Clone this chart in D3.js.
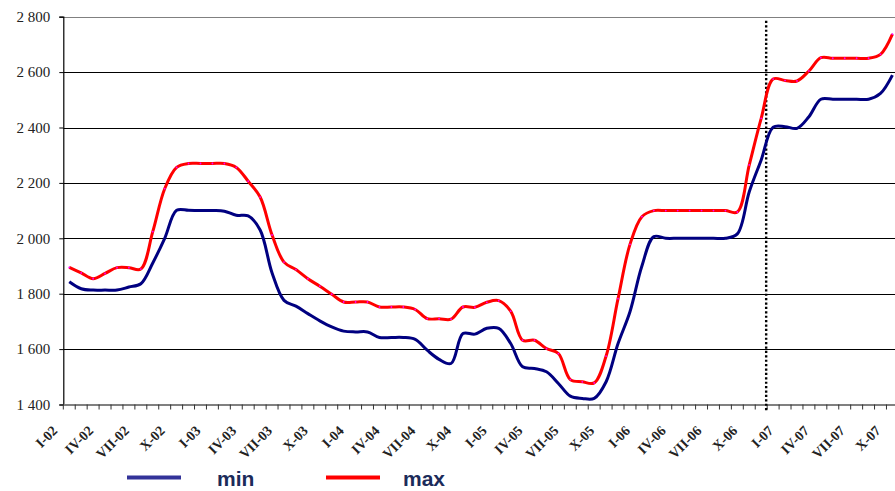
<!DOCTYPE html>
<html>
<head>
<meta charset="utf-8">
<script src="https://cdn.jsdelivr.net/npm/d3@7"></script>
<style>
  html, body { margin: 0; padding: 0; background: #fff; }
  svg { display: block; }
</style>
</head>
<body>
<svg id="chart" width="895" height="491"></svg>
<script>
// ---- data ----
const romanMonths = ["I","II","III","IV","V","VI","VII","VIII","IX","X","XI","XII"];
const years = ["02","03","04","05","06","07"];
const categories = years.flatMap(y => romanMonths.map(m => m + "-" + y)).slice(0, 70);

const minValues = [
  1843,1818,1813,1813,1813,1824,1836,1911,2000,2101,2101,2100,
  2100,2098,2083,2081,2030,1875,1776,1755,1728,1702,1680,1665,
  1662,1662,1642,1642,1642,1635,1596,1563,1548,1656,1654,1675,
  1675,1620,1536,1530,1518,1476,1430,1422,1422,1482,1620,1735,
  1900,2006,2000,2000,2000,2000,2000,2000,2016,2168,2283,2401,
  2403,2397,2439,2502,2502,2502,2502,2502,2523,2589
];
const maxValues = [
  1895,1875,1854,1873,1894,1894,1889,2024,2179,2256,2270,2270,
  2270,2270,2256,2206,2149,2012,1914,1887,1854,1827,1798,1770,
  1770,1770,1752,1752,1752,1743,1710,1710,1708,1752,1751,1769,
  1775,1737,1632,1632,1602,1584,1490,1482,1478,1575,1782,1978,
  2078,2100,2100,2100,2100,2100,2100,2100,2095,2265,2433,2575,
  2570,2568,2604,2652,2650,2650,2650,2650,2664,2737
];
const yTicks = [1400,1600,1800,2000,2200,2400,2600,2800];
const labelMonths = ["I","IV","VII","X"];
const markerCategory = "XII-06";
const seriesNames = ["min","max"];

(function () {
  const svg = d3.select("#chart");
  const plotLeft = 63.3, plotTop = 16.7, plotBottom = 404.5;
  const step = 11.93;
  const x = d3.scaleBand().domain(categories).range([plotLeft, plotLeft + step * categories.length]).padding(0);
  const y = d3.scaleLinear().domain([1400, 2800]).range([plotBottom, plotTop]);
  const cx = c => x(c) + x.bandwidth() / 2;

  // gridlines
  svg.append("g").selectAll("line").data(yTicks.filter(v => v > 1400)).join("line")
    .attr("x1", plotLeft).attr("x2", 895)
    .attr("y1", d => Math.round(y(d)) + 0.5).attr("y2", d => Math.round(y(d)) + 0.5)
    .attr("stroke", d => d === 2800 ? "#808080" : "#000").attr("stroke-width", 1);

  // y axis
  const yAxis = d3.axisLeft(y).tickValues(yTicks).tickSize(4)
    .tickFormat(d => d3.format(",")(d).replace(",", " "));
  const gy = svg.append("g").attr("transform", `translate(${plotLeft},0)`).call(yAxis);
  gy.select(".domain").attr("stroke", "#000").attr("stroke-width", 1.2);
  gy.selectAll(".tick line").attr("stroke", "#000");
  gy.selectAll(".tick text")
    .attr("font-family", "'Liberation Serif', 'Times New Roman', serif")
    .attr("font-size", 15).attr("fill", "#222").attr("x", -13);

  // x axis
  const xAxis = d3.axisBottom(x).tickSize(0).tickFormat("");
  const gx = svg.append("g").attr("transform", `translate(0,${plotBottom})`).call(xAxis);
  gx.select(".domain").attr("stroke", "#808080").attr("stroke-width", 2);
  gx.selectAll(".tick").remove();
  gx.selectAll("line.mt").data(categories.concat(["__end"])).join("line").attr("class", "mt")
    .attr("x1", (d, i) => x.range()[0] + i * x.bandwidth())
    .attr("x2", (d, i) => x.range()[0] + i * x.bandwidth())
    .attr("y1", 0).attr("y2", 5).attr("stroke", "#333").attr("stroke-width", 1);
  gx.selectAll("text.lbl").data(categories.filter(c => labelMonths.includes(c.split("-")[0]))).join("text")
    .attr("class", "lbl")
    .attr("transform", d => `translate(${x(d) - 5},${27}) rotate(-45)`)
    .attr("text-anchor", "end")
    .attr("font-family", "'Liberation Serif', 'Times New Roman', serif")
    .attr("font-size", 14).attr("font-weight", "bold").attr("fill", "#222")
    .text(d => d);

  // dotted marker line
  svg.append("line")
    .attr("x1", x(markerCategory) - 1).attr("x2", x(markerCategory) - 1)
    .attr("y1", y(2785)).attr("y2", plotBottom + 8)
    .attr("stroke", "#000").attr("stroke-width", 2.4)
    .attr("stroke-dasharray", "2.2,2.2");

  // lines
  const line = vals => d3.line().curve(d3.curveCatmullRom.alpha(0.5))
    .x((d, i) => cx(categories[i])).y(d => y(d))(vals);
  svg.append("path").attr("d", line(minValues)).attr("fill", "none")
    .attr("stroke", "#000080").attr("stroke-width", 3).attr("stroke-linejoin", "round");
  svg.append("path").attr("d", line(maxValues)).attr("fill", "none")
    .attr("stroke", "#ff0000").attr("stroke-width", 3).attr("stroke-linejoin", "round");
  svg.append("g").selectAll("circle").data(maxValues).join("circle")
    .attr("cx", (d, i) => cx(categories[i])).attr("cy", d => y(d)).attr("r", 0.9)
    .attr("fill", "#ff00ff");

  // legend
  const legend = [
    { name: seriesNames[0], color: "#333399", lx: 127, tx: 217 },
    { name: seriesNames[1], color: "#ff0000", lx: 326, tx: 403 }
  ];
  const lg = svg.append("g");
  lg.selectAll("line").data(legend).join("line")
    .attr("x1", d => d.lx).attr("x2", d => d.lx + 54)
    .attr("y1", 477.5).attr("y2", 477.5)
    .attr("stroke", d => d.color).attr("stroke-width", 4);
  lg.selectAll("text").data(legend).join("text")
    .attr("x", d => d.tx).attr("y", 486)
    .attr("font-family", "'Liberation Sans', Arial, sans-serif")
    .attr("font-size", 21).attr("font-weight", "bold").attr("fill", "#1c2b5a")
    .text(d => d.name);
})();
</script>
</body>
</html>
